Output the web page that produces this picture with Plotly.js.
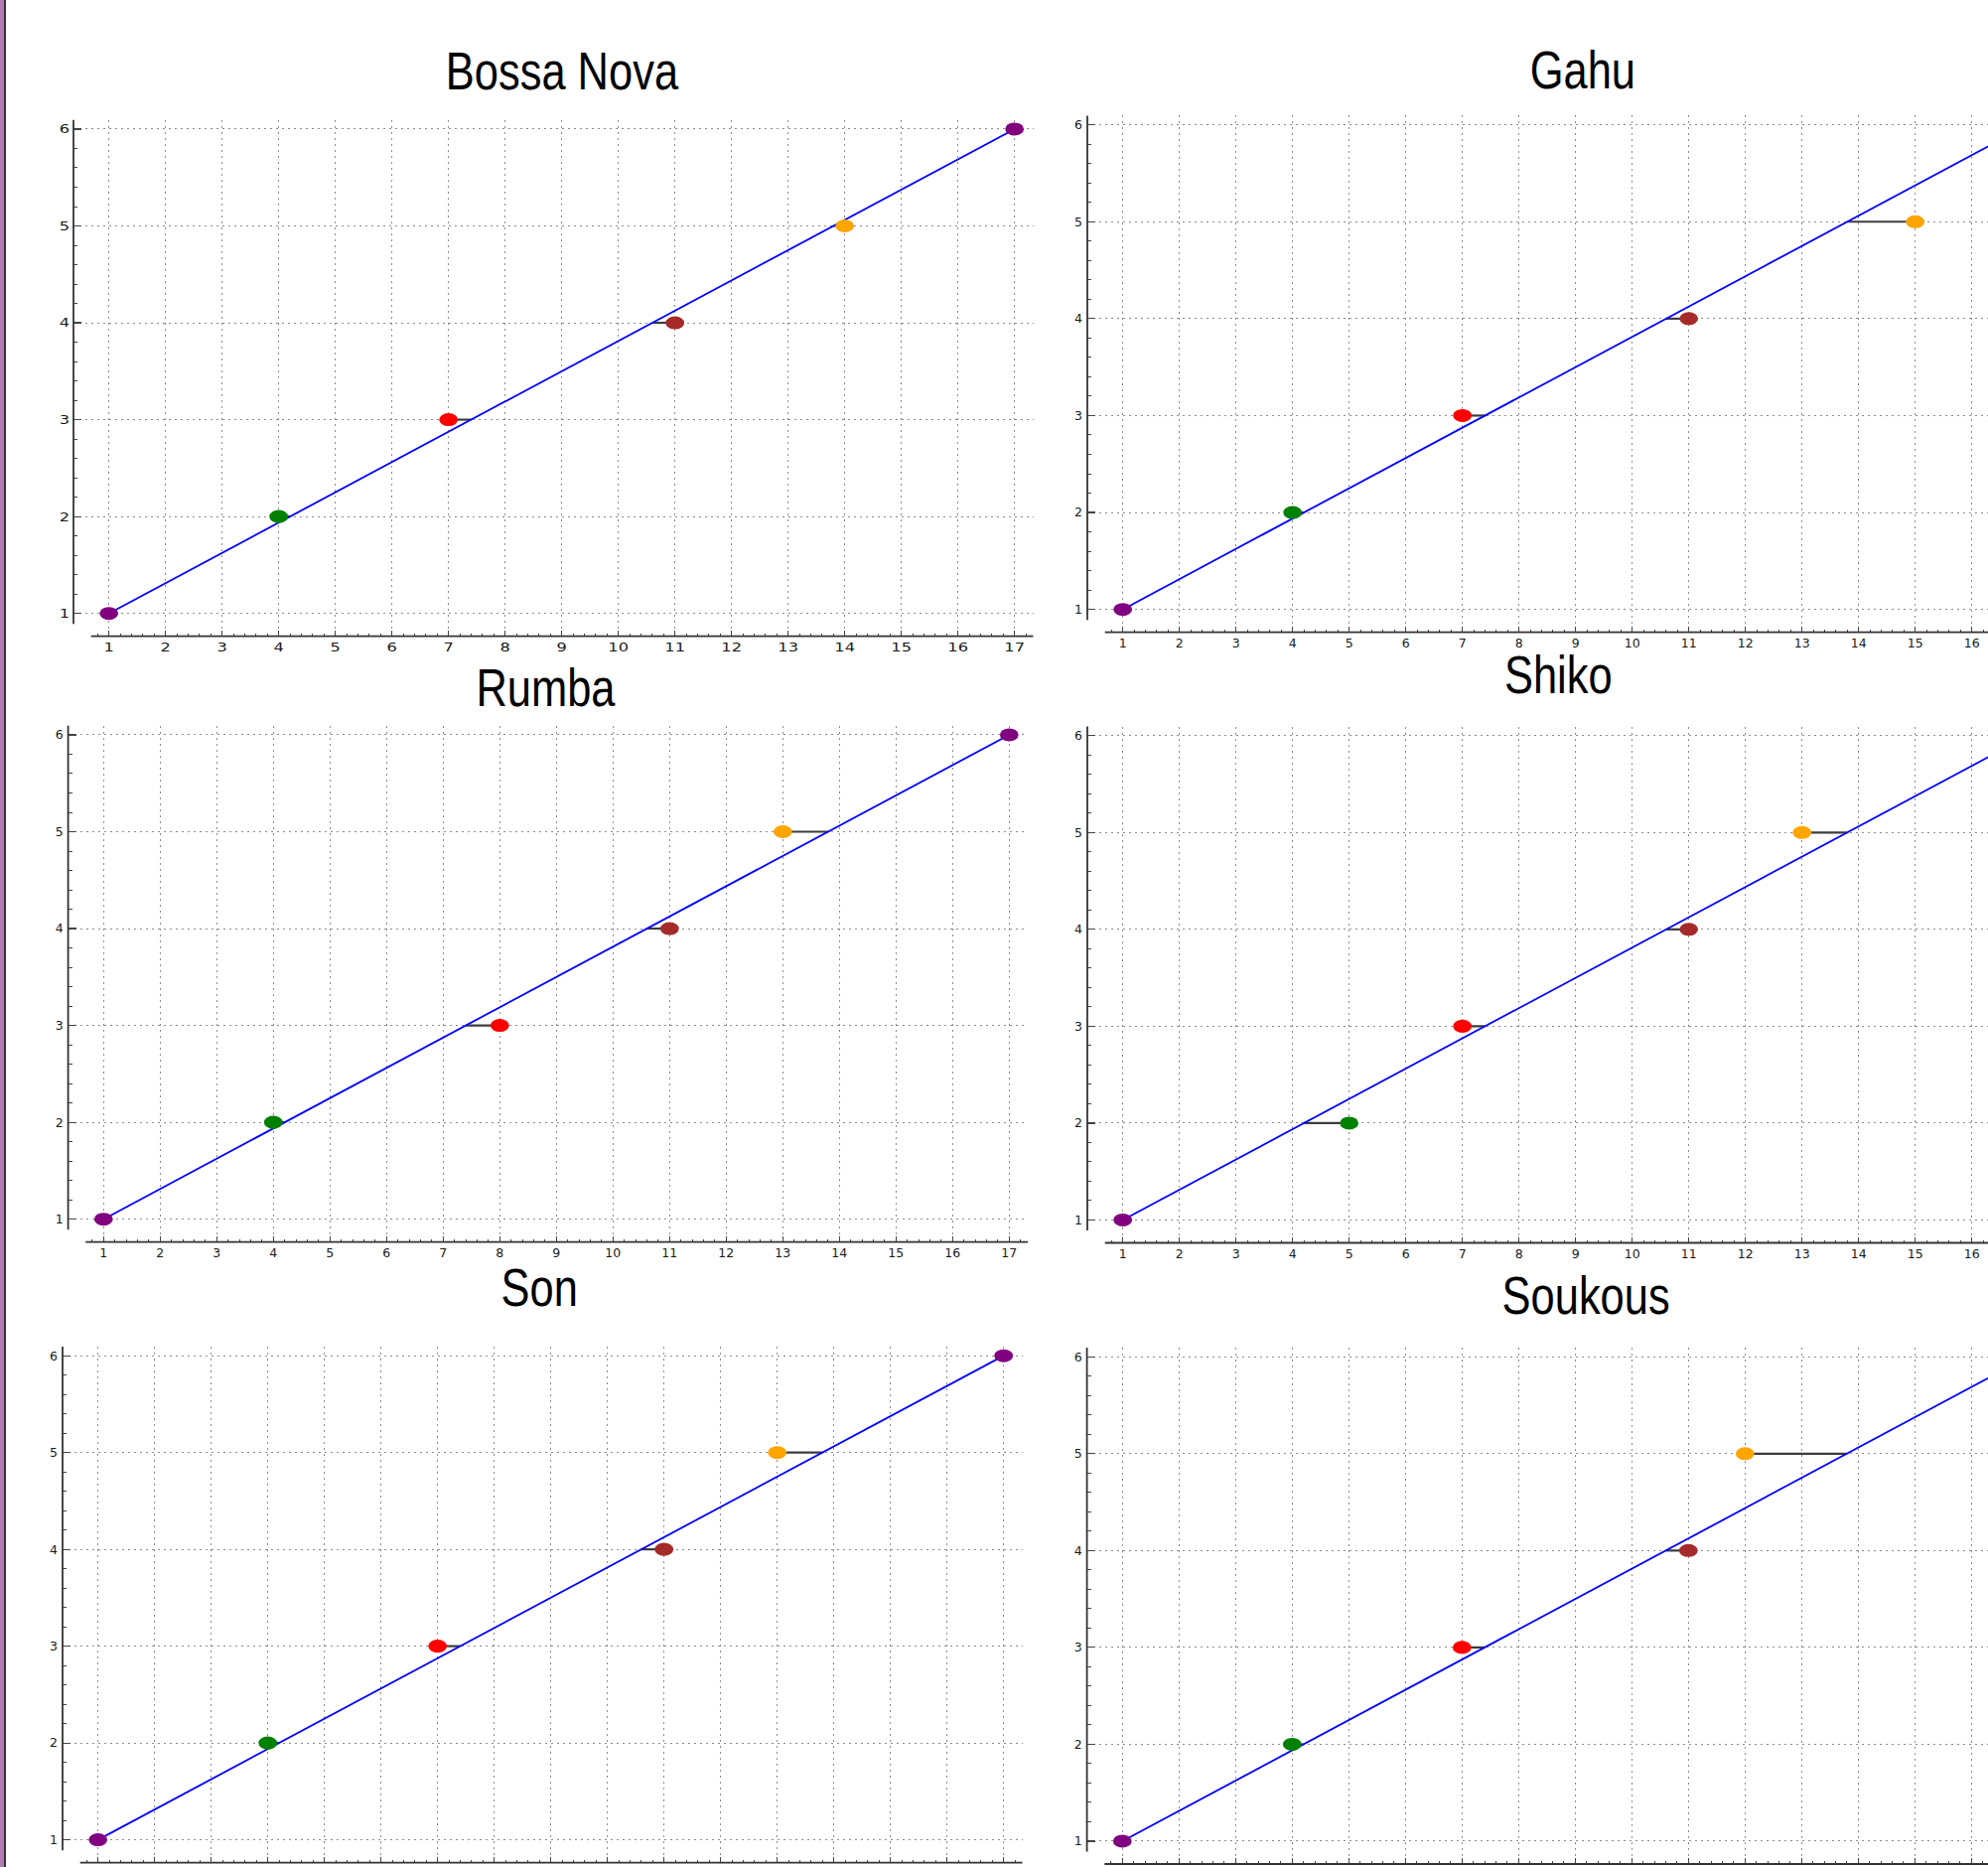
<!DOCTYPE html>
<html>
<head>
<meta charset="utf-8">
<script src="https://cdn.plot.ly/plotly-3.0.1.min.js"></script>
<style>
  html, body { margin: 0; padding: 0; background: #fff; }
  #wrap { position: relative; width: 2002px; height: 1880px; overflow: hidden; background: #fff; }
  #chart { position: absolute; left: 0; top: 0; width: 2100px; height: 1880px; }
  #band1 { position: absolute; left: 0; top: 0; width: 4px; height: 1880px; background: #b27cb2; z-index: 5; }
  #band2 { position: absolute; left: 4px; top: 0; width: 2px; height: 1880px; background: #333; z-index: 5; }
</style>
</head>
<body>
<div id="wrap">
  <div id="chart"></div>
  <div id="band1"></div>
  <div id="band2"></div>
</div>
<script>
// ---------- DATA ----------
const titles = ["Bossa Nova", "Gahu", "Rumba", "Shiko", "Son", "Soukous"];
const ranks = [1, 2, 3, 4, 5, 6];
const onsetsBossaNova = [1, 4, 7, 11, 14, 17];
const onsetsGahu      = [1, 4, 7, 11, 15, 17];
const onsetsRumba     = [1, 4, 8, 11, 13, 17];
const onsetsShiko     = [1, 5, 7, 11, 13, 17];
const onsetsSon       = [1, 4, 7, 11, 13, 17];
const onsetsSoukous   = [1, 4, 7, 11, 12, 17];
const idealPositions  = [1, 4.2, 7.4, 10.6, 13.8, 17];
const pointColors = ["purple", "green", "red", "brown", "orange", "purple"];
const xTicks = [1, 2, 3, 4, 5, 6, 7, 8, 9, 10, 11, 12, 13, 14, 15, 16, 17];
const yTicks = [1, 2, 3, 4, 5, 6];
const onsetSets = [onsetsBossaNova, onsetsGahu, onsetsRumba, onsetsShiko, onsetsSon, onsetsSoukous];

// ---------- LAYOUT GEOMETRY ----------
const W = 2100, H = 1880;
const PW = 966.5;
const xRange = [0.374, 17.33];
const yRange = [0.764, 6.095];
const panels = [
  {left: 74,     top: 120.7,  bottom: 640.7,  tx: 566,    ty: 71.5},
  {left: 1095,   top: 116.4,  bottom: 636.7,  tx: 1594,   ty: 70.8},
  {left: 68.6,   top: 730.7,  bottom: 1250.7, tx: 549.4,  ty: 692.5},
  {left: 1095,   top: 731.5,  bottom: 1251.5, tx: 1569.5, ty: 679.8},
  {left: 63,     top: 1355.9, bottom: 1875.6, tx: 542.6,  ty: 1296.5},
  {left: 1094.6, top: 1357,   bottom: 1877,   tx: 1597,   ty: 1304.5}
];

// minor tick positions (every 0.2, inside the drawn spines)
const xMinor = [], yMinor = [];
for (let k = 4; k <= 86; k++) { if (k % 5 !== 0) xMinor.push(k / 5); }
for (let k = 5; k <= 30; k++) { if (k % 5 !== 0) yMinor.push(k / 5); }

const tickFont = {family: "DejaVu Sans, sans-serif", size: 12.5, color: "#1a1a1a"};
const titleFont = {family: "Liberation Sans, Arial, sans-serif", size: 53, color: "#000"};
const axisColor = "#333";
const gridStyle = {showgrid: true, gridcolor: "#8c8c8c", gridwidth: 1, griddash: "2px,4px"};

const traces = [];
const layout = {
  width: W, height: H,
  margin: {l: 0, r: 0, t: 0, b: 0},
  paper_bgcolor: "#fff", plot_bgcolor: "#fff",
  showlegend: false, hovermode: false,
  annotations: [], shapes: []
};

panels.forEach((p, i) => {
  const n = i + 1;
  const sfx = n === 1 ? "" : String(n);
  const xa = "x" + sfx, ya = "y" + sfx;
  layout["xaxis" + sfx] = Object.assign({
    domain: [p.left / W, (p.left + PW) / W],
    range: xRange, anchor: ya,
    tickmode: "array", tickvals: xTicks, ticktext: xTicks.map(String),
    ticks: "inside", ticklen: 6, tickwidth: 1.2, tickcolor: "#444",
    minor: {tickmode: "array", tickvals: xMinor, ticks: "inside", ticklen: 3, tickwidth: 1, tickcolor: "#444", showgrid: false},
    zeroline: false, showline: false, tickfont: tickFont, ticklabelstandoff: 2, fixedrange: true
  }, gridStyle);
  layout["yaxis" + sfx] = Object.assign({
    domain: [1 - p.bottom / H, 1 - p.top / H],
    range: yRange, anchor: xa,
    tickmode: "array", tickvals: yTicks, ticktext: yTicks.map(String),
    ticks: "inside", ticklen: 8, tickwidth: 1.2, tickcolor: "#444",
    minor: {tickmode: "array", tickvals: yMinor, ticks: "inside", ticklen: 4, tickwidth: 1, tickcolor: "#444", showgrid: false},
    zeroline: false, showline: false, tickfont: tickFont, ticklabelstandoff: 4, fixedrange: true
  }, gridStyle);

  // axis spines (Sage-style, offset)
  layout.shapes.push({type: "line", xref: xa + " domain", yref: ya + " domain",
    x0: 0, x1: 0, y0: 12.4 / 520, y1: 1, line: {color: axisColor, width: 1.8}});
  layout.shapes.push({type: "line", xref: xa + " domain", yref: ya + " domain",
    x0: 17.7 / PW, x1: 1, y0: 0, y1: 0, line: {color: axisColor, width: 1.8}});

  layout.annotations.push({text: titles[i], xref: "paper", yref: "paper",
    x: p.tx / W, y: 1 - p.ty / H, xanchor: "center", yanchor: "middle",
    showarrow: false, font: titleFont});

  const onsets = onsetSets[i];
  // connectors from each onset to its evenly-spaced position
  const cx = [], cy = [];
  onsets.forEach((o, k) => { cx.push(o, idealPositions[k], null); cy.push(ranks[k], ranks[k], null); });
  traces.push({x: cx, y: cy, xaxis: xa, yaxis: ya, mode: "lines",
    line: {color: "#3c3c3c", width: 2.2}, hoverinfo: "skip"});
  traces.push({x: idealPositions, y: ranks, xaxis: xa, yaxis: ya, mode: "lines",
    line: {color: "#0000ff", width: 1.8}, hoverinfo: "skip"});
  traces.push({x: onsets, y: ranks, xaxis: xa, yaxis: ya, mode: "markers",
    marker: {color: pointColors, size: 15, line: {width: 0}}, cliponaxis: false, hoverinfo: "skip"});
});

function stretchText(el, sx) {
  const bb = el.getBBox();
  const c = bb.x + bb.width / 2;
  const prev = el.getAttribute("transform") || "";
  el.setAttribute("transform", prev + " translate(" + c + ",0) scale(" + sx + ",1) translate(" + (-c) + ",0)");
}

Plotly.newPlot("chart", traces, layout, {staticPlot: true, displayModeBar: false}).then(gd => {
  // condensed titles
  gd.querySelectorAll(".annotation-text").forEach(t => stretchText(t, 0.82));
  // wide tick labels, as in the reference raster
  gd.querySelectorAll(".xtick text, .ytick text").forEach(t => stretchText(t, 1.3));
  // elliptical dots
  gd.querySelectorAll(".scatterlayer .points path.point").forEach(pt => {
    const prev = pt.getAttribute("transform") || "";
    pt.setAttribute("transform", prev + " scale(1.25,0.87)");
  });
});
</script>
</body>
</html>
